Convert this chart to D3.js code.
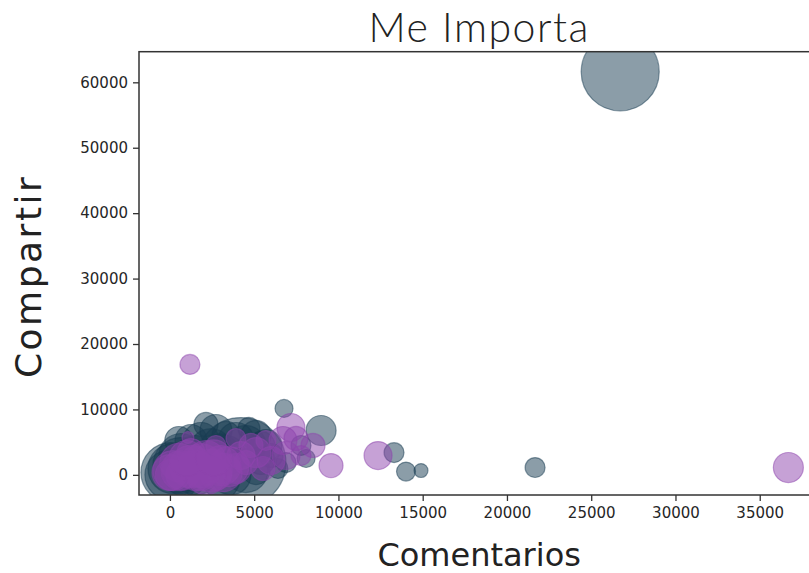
<!DOCTYPE html>
<html>
<head>
<meta charset="utf-8">
<script src="https://cdn.jsdelivr.net/npm/d3@7"></script>
<style>
  body { margin: 0; background: #fff; }
  svg { display: block; }
</style>
</head>
<body>
<svg id="chart" width="809" height="573"></svg>
<script>
// ---- data ----
const titleText = "Me Importa";
const xLabel = "Comentarios";
const yLabel = "Compartir";

const darkComments = [26720, 21670, 14900, 14010, 13300, 8970, 6770, 8080, 6410, 4216, 60, 650, 0, 2140, 4690, 1250, 3330, 5400, 6000, 5110, 6890, 2430, 4510, 7780, 1540, 3000,
  180, 650, 1540, 2430, 3330, 1840, 2730, 3920, 5110, 5700, 4510, 950, 3620, 5400, 530];
const darkShares   = [61600, 1120, 660, 500, 3400, 6780, 10150, 2500, 970, 1880, 350, 1420, 0, 7700, 7090, 5250, 6020, 4490, 2960, 660, 1880, 0, 4490, 4490, 300, 3500,
  960, 2960, 2190, 3700, 2960, 5250, 6780, 5250, 6020, 4490, 660, 0, 0, 2190, 5250];
const darkCare     = [1880, 123, 60, 111, 123, 278, 100, 100, 123, 2500, 1111, 968, 772, 178, 150, 316, 242, 242, 178, 242, 123, 1111, 494, 123, 600, 400,
  772, 598, 772, 598, 494, 400, 316, 400, 278, 316, 598, 598, 494, 242, 242];

const purpleComments = [36700, 12350, 9560, 7180, 8490, 1190, 180, 1250, 2430, 3500, 650, 1840, 4220, 5110, 6000, 6710, 5700, 3920, 1070, 7780, 5520, 2730,
  0, 530, 1540, 2140, 3150, 2730, 3920, 1250, 60, 4510, 6890, 7480, 4810,
  650, 1840, 3030, 2140, 1000, 2600];
const purpleShares   = [1120, 2950, 1420, 7240, 4490, 16880, 660, 1270, 660, 1270, 0, 0, 2950, 3400, 2190, 5250, 5250, 5560, 5710, 2950, 970, 4490,
  350, 1880, 660, 2190, 350, 0, 970, 3400, 0, 1880, 2960, 5560, 4490,
  660, 1420, 1420, 0, 2500, 2600];
const purpleCare     = [278, 242, 178, 242, 178, 123, 494, 560, 560, 494, 278, 300, 242, 278, 242, 242, 123, 123, 44, 123, 178, 123,
  400, 450, 494, 494, 450, 300, 278, 242, 300, 178, 242, 178, 178,
  494, 600, 494, 494, 400, 400];

const xTicks = [0, 5000, 10000, 15000, 20000, 25000, 30000, 35000];
const yTicks = [0, 10000, 20000, 30000, 40000, 50000, 60000];

const seriesColors = ["#183b52", "#8e44ad"];

// ---- layout ----
const svg = d3.select("#chart");
const mLeft = 139, mTop = 51.7, mBottom = 495, mRight = 819.3;

const allX = darkComments.concat(purpleComments);
const allY = darkShares.concat(purpleShares);
const [xmin, xmax] = d3.extent(allX);
const [ymin, ymax] = d3.extent(allY);
const xm = (xmax - xmin) * 0.05, ym = (ymax - ymin) * 0.05;

const x = d3.scaleLinear().domain([xmin - xm, xmax + xm]).range([mLeft, mRight]);
const y = d3.scaleLinear().domain([ymin - ym, ymax + ym]).range([mBottom, mTop]);
const maxCare = d3.max(darkCare.concat(purpleCare));
const r = d3.scaleSqrt().domain([0, maxCare]).range([0, Math.sqrt(maxCare) * 0.9]);

svg.append("clipPath").attr("id", "clip")
  .append("rect").attr("x", mLeft).attr("y", mTop).attr("width", mRight - mLeft).attr("height", mBottom - mTop);

const series = [
  { c: darkComments, s: darkShares, k: darkCare, color: seriesColors[0] },
  { c: purpleComments, s: purpleShares, k: purpleCare, color: seriesColors[1] }
];

const plot = svg.append("g").attr("clip-path", "url(#clip)");
series.forEach(ser => {
  const pts = ser.c.map((v, i) => ({ x: v, y: ser.s[i], k: ser.k[i] }));
  plot.append("g").selectAll("circle").data(pts).join("circle")
    .attr("cx", d => x(d.x))
    .attr("cy", d => y(d.y))
    .attr("r", d => r(d.k))
    .attr("fill", ser.color)
    .attr("fill-opacity", 0.5)
    .attr("stroke", ser.color)
    .attr("stroke-opacity", 0.5)
    .attr("stroke-width", 1.2);
});

// axes
const xAxis = d3.axisBottom(x).tickValues(xTicks).tickSize(6).tickPadding(6).tickFormat(d3.format("d"));
const yAxis = d3.axisLeft(y).tickValues(yTicks).tickSize(6).tickPadding(5).tickFormat(d3.format("d"));

const gx = svg.append("g").attr("transform", `translate(0,${mBottom})`).call(xAxis);
const gy = svg.append("g").attr("transform", `translate(${mLeft},0)`).call(yAxis);
[gx, gy].forEach(g => {
  g.select(".domain").remove();
  g.selectAll(".tick line").attr("stroke", "#333").attr("stroke-width", 1.3);
  g.selectAll(".tick text").attr("fill", "#262626")
    .style("font-family", "DejaVu Sans, sans-serif").style("font-size", "15px");
});

// frame (spines)
svg.append("rect").attr("x", mLeft).attr("y", mTop)
  .attr("width", mRight - mLeft).attr("height", mBottom - mTop)
  .attr("fill", "none").attr("stroke", "#333").attr("stroke-width", 1.5);

// title and labels
svg.append("text").attr("x", (mLeft + mRight) / 2).attr("y", 42)
  .attr("text-anchor", "middle")
  .style("font-family", "Lato, sans-serif").style("font-size", "41px").style("font-weight", 300)
  .style("letter-spacing", "1.5px")
  .attr("fill", "#222").text(titleText);

svg.append("text").attr("x", (mLeft + mRight) / 2).attr("y", 566)
  .attr("text-anchor", "middle")
  .style("font-family", "DejaVu Sans, sans-serif").style("font-size", "32px")
  .attr("fill", "#222").text(xLabel);

svg.append("text")
  .attr("transform", `translate(41,${(mTop + mBottom) / 2 + 3}) rotate(-90)`)
  .attr("text-anchor", "middle")
  .style("font-family", "DejaVu Sans, sans-serif").style("font-size", "36px")
  .style("letter-spacing", "2.5px")
  .attr("fill", "#222").text(yLabel);
</script>
</body>
</html>
